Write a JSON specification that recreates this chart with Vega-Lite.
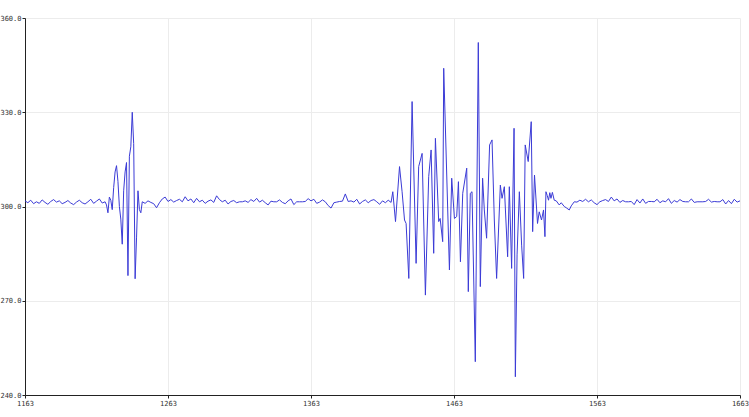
{
  "$schema": "https://vega.github.io/schema/vega-lite/v6.json",
  "width": 715,
  "height": 377,
  "autosize": {"type": "none"},
  "padding": {"left": 25, "top": 18, "right": 9, "bottom": 22},
  "background": "white",
  "config": {"view": {"stroke": null}},
  "data": {"values": [
    {"t":1163,"v":301.8},{"t":1165,"v":301.2},{"t":1167,"v":302.0},{"t":1169,"v":300.9},{"t":1171,"v":301.5},{"t":1173,"v":301.0},{"t":1175,"v":302.1},{"t":1177,"v":301.3},{"t":1179,"v":300.7},{"t":1181,"v":301.6},{"t":1183,"v":302.2},{"t":1185,"v":301.4},{"t":1187,"v":301.8},{"t":1189,"v":300.9},{"t":1191,"v":301.3},{"t":1193,"v":301.9},{"t":1195,"v":301.1},{"t":1197,"v":300.6},{"t":1199,"v":301.4},{"t":1201,"v":302.0},{"t":1203,"v":301.2},{"t":1205,"v":300.8},{"t":1207,"v":301.5},{"t":1209,"v":302.3},{"t":1211,"v":301.0},{"t":1213,"v":301.7},{"t":1215,"v":302.4},{"t":1217,"v":301.1},
    {"t":1219,"v":301.5},{"t":1220,"v":300.5},{"t":1221,"v":298},{"t":1222,"v":303},{"t":1223,"v":302},{"t":1224,"v":299},{"t":1225,"v":306},{"t":1226,"v":311},{"t":1227,"v":313},{"t":1228,"v":308},{"t":1229,"v":300},{"t":1230,"v":296},{"t":1231,"v":288},{"t":1232,"v":305},{"t":1233,"v":311},{"t":1234,"v":314},{"t":1235,"v":278},{"t":1236,"v":316},{"t":1237,"v":319},{"t":1238,"v":330},{"t":1239,"v":320},{"t":1240,"v":277},{"t":1241,"v":290},{"t":1242,"v":305},{"t":1243,"v":299},{"t":1244,"v":298},{"t":1245,"v":301.5},
    {"t":1247,"v":301.0},{"t":1249,"v":301.8},{"t":1251,"v":301.3},{"t":1253,"v":300.9},{"t":1255,"v":299.6},{"t":1257,"v":301.2},{"t":1259,"v":302.4},{"t":1261,"v":303.0},{"t":1263,"v":301.6},{"t":1265,"v":302.2},{"t":1267,"v":301.4},{"t":1269,"v":301.9},{"t":1271,"v":302.3},{"t":1273,"v":301.5},{"t":1275,"v":303.1},{"t":1277,"v":301.8},{"t":1279,"v":302.4},{"t":1281,"v":301.2},{"t":1283,"v":302.6},{"t":1285,"v":301.5},{"t":1287,"v":302.0},{"t":1289,"v":301.0},{"t":1291,"v":301.7},{"t":1293,"v":302.1},{"t":1295,"v":301.3},{"t":1297,"v":303.4},{"t":1299,"v":302.2},{"t":1301,"v":301.5},{"t":1303,"v":302.0},{"t":1305,"v":300.8},{"t":1307,"v":301.6},{"t":1309,"v":301.9},{"t":1311,"v":301.2},{"t":1313,"v":301.5},{"t":1315,"v":301.5},{"t":1317,"v":301.8},{"t":1319,"v":301.3},{"t":1321,"v":302.2},{"t":1323,"v":301.6},{"t":1325,"v":302.6},{"t":1327,"v":301.4},{"t":1329,"v":302.0},{"t":1331,"v":301.2},{"t":1333,"v":300.5},{"t":1335,"v":301.7},{"t":1337,"v":301.5},{"t":1339,"v":301.5},{"t":1341,"v":302.1},{"t":1343,"v":301.3},{"t":1345,"v":300.9},{"t":1347,"v":301.8},{"t":1349,"v":302.4},{"t":1351,"v":300.6},{"t":1353,"v":301.5},{"t":1355,"v":301.5},{"t":1357,"v":301.5},{"t":1359,"v":301.6},{"t":1361,"v":302.5},{"t":1363,"v":301.8},{"t":1365,"v":302.3},{"t":1367,"v":301.0},{"t":1369,"v":301.4},{"t":1371,"v":302.1},{"t":1373,"v":301.5},{"t":1375,"v":300.3},{"t":1377,"v":299.5},{"t":1379,"v":301.2},{"t":1381,"v":301.4},{"t":1383,"v":301.6},{"t":1385,"v":301.7},{"t":1387,"v":304.0},{"t":1389,"v":301.6},{"t":1391,"v":301.8},{"t":1393,"v":301.4},{"t":1395,"v":302.3},{"t":1397,"v":300.8},{"t":1399,"v":301.6},{"t":1401,"v":302.1},{"t":1403,"v":301.2},{"t":1405,"v":301.9},{"t":1407,"v":302.2},{"t":1409,"v":301.5},{"t":1411,"v":300.7},{"t":1413,"v":301.8},{"t":1415,"v":301.2},{"t":1417,"v":302.0},{"t":1419,"v":301.3},
    {"t":1420.2,"v":304.7},{"t":1422.1,"v":295.2},{"t":1424.9,"v":312.7},{"t":1426.7,"v":304.7},{"t":1428.4,"v":295.7},{"t":1429.5,"v":294.6},{"t":1431.4,"v":277.1},{"t":1433.7,"v":333.4},{"t":1436.5,"v":281.9},{"t":1438.3,"v":312.7},{"t":1440.7,"v":316.9},{"t":1443,"v":271.8},{"t":1445.3,"v":309.5},{"t":1447,"v":318},{"t":1448.8,"v":285.1},{"t":1450,"v":321.7},{"t":1452.3,"v":295.2},{"t":1453.3,"v":296.2},{"t":1455.1,"v":288.8},{"t":1455.8,"v":344},{"t":1459.8,"v":279.8},{"t":1461.4,"v":309},{"t":1463.3,"v":296.2},{"t":1464.9,"v":296.8},{"t":1466.1,"v":307.9},{"t":1467.5,"v":282.4},{"t":1469.1,"v":304.2},{"t":1471.9,"v":312.2},{"t":1473,"v":272.9},{"t":1474.4,"v":304.2},{"t":1475.6,"v":304.7},{"t":1477.9,"v":250.6},{"t":1480,"v":352.2},{"t":1481.4,"v":274.5},{"t":1483,"v":309},{"t":1484.2,"v":298.9},{"t":1485.8,"v":289.9},{"t":1487.9,"v":319.6},{"t":1489.6,"v":321.2},{"t":1491.2,"v":295.7},{"t":1492.8,"v":277.1},{"t":1495.4,"v":306.8},{"t":1496.6,"v":302.6},{"t":1498.2,"v":306.3},{"t":1500.5,"v":284},{"t":1501.7,"v":306.3},{"t":1503.3,"v":280.3},{"t":1505,"v":324.9},{"t":1505.9,"v":245.8},{"t":1507.1,"v":284.6},{"t":1508.7,"v":304.7},{"t":1510.3,"v":287.7},{"t":1511.7,"v":277.1},{"t":1512.8,"v":319.6},{"t":1514.9,"v":314.3},{"t":1517,"v":327},{"t":1518,"v":292},{"t":1519.3,"v":310},{"t":1521.4,"v":294.6},{"t":1522.6,"v":298.3},{"t":1524.2,"v":295.7},{"t":1525.6,"v":298.9},{"t":1526.6,"v":290.4},{"t":1527.3,"v":304.7},{"t":1528.2,"v":303.5},{"t":1529.1,"v":302},{"t":1530,"v":304.4},{"t":1530.8,"v":302.6},{"t":1531.8,"v":304.5},{"t":1533.1,"v":302},{"t":1534.5,"v":301.8},{"t":1536.6,"v":300.5},{"t":1538,"v":301.2},{"t":1540.1,"v":300},{"t":1541.5,"v":299.6},{"t":1543.6,"v":298.9},{"t":1545,"v":300.2},{"t":1547.1,"v":301.5},
    {"t":1549,"v":301.4},{"t":1551,"v":302.0},{"t":1553,"v":301.6},{"t":1555,"v":302.3},{"t":1557,"v":301.5},{"t":1559,"v":302.1},{"t":1561,"v":301.2},{"t":1563,"v":300.6},{"t":1565,"v":301.5},{"t":1567,"v":301.9},{"t":1569,"v":302.2},{"t":1571,"v":301.6},{"t":1573,"v":303.0},{"t":1575,"v":301.8},{"t":1577,"v":302.4},{"t":1579,"v":301.3},{"t":1581,"v":301.9},{"t":1583,"v":301.5},{"t":1585,"v":301.5},{"t":1587,"v":301.6},{"t":1589,"v":300.6},{"t":1591,"v":302.2},{"t":1593,"v":301.1},{"t":1595,"v":302.4},{"t":1597,"v":301.0},{"t":1599,"v":301.6},{"t":1601,"v":301.6},{"t":1603,"v":301.5},{"t":1605,"v":302.3},{"t":1607,"v":301.2},{"t":1609,"v":301.8},{"t":1611,"v":301.5},{"t":1613,"v":302.5},{"t":1615,"v":301.0},{"t":1617,"v":301.9},{"t":1619,"v":301.4},{"t":1621,"v":302.2},{"t":1623,"v":301.6},{"t":1625,"v":301.5},{"t":1627,"v":301.5},{"t":1629,"v":302.4},{"t":1631,"v":301.3},{"t":1633,"v":301.5},{"t":1635,"v":301.5},{"t":1637,"v":301.5},{"t":1639,"v":301.6},{"t":1641,"v":302.3},{"t":1643,"v":301.4},{"t":1645,"v":301.6},{"t":1647,"v":301.5},{"t":1649,"v":301.5},{"t":1651,"v":302.2},{"t":1653,"v":300.8},{"t":1655,"v":301.9},{"t":1657,"v":300.9},{"t":1659,"v":302.3},{"t":1661,"v":301.4},{"t":1663,"v":301.8}
  ]},
  "mark": {"type": "line", "color": "#3b3bd6", "strokeWidth": 1, "interpolate": "linear"},
  "encoding": {
    "x": {
      "field": "t", "type": "quantitative",
      "scale": {"domain": [1163, 1663], "nice": false, "zero": false},
      "axis": {
        "title": null, "values": [1163, 1263, 1363, 1463, 1563, 1663], "format": "d",
        "labelFont": "DejaVu Sans Mono", "labelFontSize": 7, "labelColor": "#333",
        "domainColor": "#222", "tickColor": "#222", "tickSize": 3, "labelPadding": 1,
        "gridColor": "#ececec", "grid": true, "labelFlush": false
      }
    },
    "y": {
      "field": "v", "type": "quantitative",
      "scale": {"domain": [240, 360], "nice": false, "zero": false},
      "axis": {
        "title": null, "values": [240, 270, 300, 330, 360], "format": ".1f",
        "labelFont": "DejaVu Sans Mono", "labelFontSize": 7, "labelColor": "#333",
        "domainColor": "#222", "tickColor": "#222", "tickSize": 3, "labelPadding": 1,
        "gridColor": "#ececec", "grid": true, "labelFlush": false
      }
    }
  }
}
